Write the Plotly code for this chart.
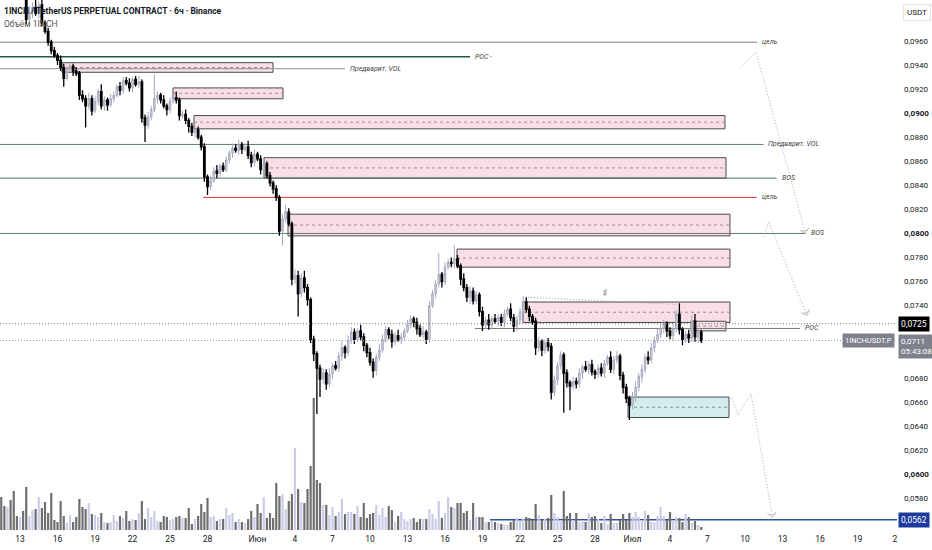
import pandas as pd
import plotly.graph_objects as go

# 6h candles of 1INCHUSDT.P, first candle 11 May 12:00
first_open = 0.1015
closes = [
    0.1010, 0.1005, 0.1012, 0.1008, 0.1003, 0.0999, 0.1004, 0.0998,
    0.0978, 0.0984, 0.0988, 0.0983, 0.0990, 0.0975, 0.0968, 0.0959,
    0.0952, 0.0948, 0.0944, 0.0938, 0.0929, 0.0937, 0.0939, 0.0935,
    0.0933, 0.0915, 0.0912, 0.0906, 0.0912, 0.0902, 0.0910, 0.0918,
    0.0906, 0.0911, 0.0907, 0.0912, 0.0915, 0.0922, 0.0919, 0.0927,
    0.0925, 0.0921, 0.0928, 0.0924, 0.0926, 0.0896, 0.0890, 0.0897,
    0.0903, 0.0912, 0.0915, 0.0911, 0.0906, 0.0903, 0.0910, 0.0913,
    0.0911, 0.0898, 0.0899, 0.0894, 0.0889, 0.0884, 0.0886, 0.0880,
    0.0872, 0.0847, 0.0839, 0.0844, 0.0852, 0.0850, 0.0856, 0.0853,
    0.0861, 0.0867, 0.0871, 0.0869, 0.0874, 0.0870, 0.0872, 0.0865,
    0.0859, 0.0866, 0.0862, 0.0853, 0.0858, 0.0848, 0.0842, 0.0837,
    0.0830, 0.0802, 0.0812, 0.0818, 0.0808, 0.0762, 0.0765, 0.0750,
    0.0763, 0.0755, 0.0745, 0.0712, 0.0700, 0.0688, 0.0679, 0.0684,
    0.0675, 0.0683, 0.0690, 0.0688, 0.0698, 0.0705, 0.0701, 0.0711,
    0.0718, 0.0712, 0.0719, 0.0714, 0.0707, 0.0701, 0.0693, 0.0686,
    0.0697, 0.0703, 0.0712, 0.0720, 0.0716, 0.0710, 0.0715, 0.0712,
    0.0714, 0.0719, 0.0724, 0.0729, 0.0726, 0.0721, 0.0716, 0.0718,
    0.0712, 0.0740, 0.0750, 0.0758, 0.0766, 0.0760, 0.0772, 0.0776,
    0.0775, 0.0779, 0.0773, 0.0762, 0.0755, 0.0747, 0.0752, 0.0744,
    0.0749, 0.0735, 0.0724, 0.0728, 0.0724, 0.0729, 0.0727, 0.0730,
    0.0726, 0.0733, 0.0737, 0.0730, 0.0723, 0.0728, 0.0735, 0.0743,
    0.0737, 0.0731, 0.0727, 0.0705, 0.0710, 0.0703, 0.0709, 0.0706,
    0.0668, 0.0678, 0.0690, 0.0699, 0.0684, 0.0676, 0.0673, 0.0677,
    0.0675, 0.0684, 0.0689, 0.0687, 0.0691, 0.0685, 0.0683, 0.0688,
    0.0684, 0.0692, 0.0697, 0.0687, 0.0695, 0.0698, 0.0682, 0.0672,
    0.0663, 0.0657, 0.0664, 0.0672, 0.0681, 0.0687, 0.0697, 0.0695,
    0.0705, 0.0711, 0.0716, 0.0721, 0.0725, 0.0719, 0.0715, 0.0721,
    0.0733, 0.0720, 0.0712, 0.0716, 0.0713, 0.0727, 0.0714, 0.0718,
    0.0711,
]
# wick lengths above / below the body, in 0.0001
wick_up = [
    4, 3, 5, 2, 3, 4, 2, 6, 8, 5, 4, 6, 3, 4, 2, 3,
    2, 3, 2, 4, 3, 2, 3, 2, 3, 2, 4, 3, 5, 3, 4, 2,
    6, 3, 2, 4, 3, 2, 4, 3, 3, 4, 2, 3, 5, 2, 3, 4,
    3, 20, 3, 2, 4, 2, 3, 3, 5, 2, 3, 4, 2, 3, 2, 3,
    2, 3, 2, 4, 3, 5, 2, 3, 3, 2, 4, 3, 4, 2, 3, 5,
    3, 4, 2, 3, 5, 2, 3, 2, 3, 2, 4, 6, 3, 2, 5, 4,
    4, 6, 3, 2, 3, 2, 3, 4, 3, 5, 2, 4, 3, 6, 2, 4,
    4, 3, 2, 5, 3, 2, 4, 3, 3, 5, 4, 3, 2, 4, 3, 5,
    3, 2, 4, 3, 2, 4, 3, 5, 2, 4, 3, 3, 18, 2, 4, 3,
    4, 11, 3, 2, 5, 3, 4, 3, 3, 2, 4, 3, 5, 2, 4, 3,
    3, 4, 2, 5, 3, 4, 3, 5, 4, 3, 2, 3, 4, 2, 3, 4,
    3, 4, 3, 3, 2, 3, 2, 4, 3, 4, 2, 5, 3, 4, 2, 3,
    4, 3, 2, 5, 3, 4, 2, 3, 3, 2, 4, 5, 3, 4, 3, 5,
    4, 3, 5, 4, 3, 2, 3, 4, 3, 9, 2, 3, 4, 5, 6, 3,
    2,
]
wick_down = [
    3, 4, 2, 5, 3, 2, 4, 3, 4, 3, 5, 2, 4, 3, 2, 3,
    3, 2, 4, 3, 7, 2, 3, 4, 2, 4, 3, 18, 3, 4, 2, 3,
    3, 4, 5, 2, 3, 2, 4, 3, 2, 3, 4, 2, 3, 4, 14, 3,
    3, 2, 4, 3, 2, 5, 3, 2, 3, 4, 2, 3, 5, 3, 4, 2,
    3, 4, 7, 3, 2, 4, 3, 2, 2, 3, 4, 2, 3, 4, 2, 3,
    4, 3, 2, 4, 3, 2, 3, 4, 3, 4, 12, 3, 2, 5, 4, 19,
    3, 4, 5, 3, 6, 38, 15, 4, 5, 3, 4, 2, 3, 4, 5, 3,
    3, 4, 2, 3, 5, 4, 3, 6, 4, 3, 2, 3, 4, 5, 3, 2,
    4, 3, 2, 3, 4, 5, 2, 3, 4, 3, 2, 4, 3, 5, 3, 2,
    3, 4, 2, 5, 3, 4, 6, 3, 3, 4, 5, 3, 4, 3, 2, 4,
    3, 4, 2, 3, 5, 4, 3, 2, 3, 4, 3, 6, 4, 5, 3, 4,
    6, 3, 4, 3, 33, 4, 20, 3, 4, 3, 5, 2, 4, 3, 4, 3,
    3, 4, 2, 3, 4, 3, 4, 5, 4, 12, 3, 4, 3, 5, 3, 4,
    3, 4, 2, 3, 4, 5, 3, 4, 3, 4, 5, 3, 4, 3, 4, 5,
    2,
]
volumes = [
    33, 24, 23, 30, 39, 14, 13, 19, 43, 14, 20, 21, 33, 22, 28, 17, 37, 10, 8, 29,
    14, 7, 15, 8, 13, 31, 23, 21, 27, 16, 15, 13, 17, 8, 7, 8, 15, 9, 14, 12,
    19, 9, 11, 10, 17, 29, 11, 22, 13, 19, 9, 8, 14, 13, 10, 11, 13, 14, 12, 12,
    22, 6, 11, 14, 26, 18, 32, 13, 14, 9, 11, 11, 22, 15, 17, 8, 11, 8, 7, 11,
    19, 13, 26, 17, 33, 12, 17, 12, 47, 34, 36, 21, 29, 36, 82, 41, 28, 27, 41, 64,
    132, 50, 47, 25, 25, 15, 23, 14, 18, 31, 16, 18, 18, 16, 24,
    13, 27, 12, 16, 17, 25, 15, 22, 13, 24, 20, 8, 14, 18, 11, 9, 11, 12, 8, 11,
    11, 11, 21, 16, 11, 29, 12, 17, 33, 23, 22, 27, 27, 17, 19, 10, 27, 13, 13, 13,
    8, 8,
    9, 8, 7, 6, 5, 5, 8, 10, 12, 9, 11, 13, 12, 10, 26,
    15, 10, 11, 12, 35, 17, 13, 10, 39,
    14, 17, 10, 17, 8, 10, 8, 17, 13, 14, 11, 7, 14, 6, 16, 7, 7, 10, 16, 10,
    17, 13, 18, 13, 10, 19, 15, 8, 8, 14, 23, 14, 10, 18, 10, 13, 12, 8, 16, 13,
    7, 9, 5, 3,
]

# price axis
price_ticks = [0.0960, 0.0940, 0.0920, 0.0900, 0.0880, 0.0860, 0.0840, 0.0820, 0.0800,
               0.0780, 0.0760, 0.0740, 0.0680, 0.0660, 0.0640, 0.0620, 0.0600, 0.0580]
bold_ticks = [0.0900, 0.0800, 0.0600]

# time axis
date_ticks = ["2025-05-13", "2025-05-16", "2025-05-19", "2025-05-22", "2025-05-25", "2025-05-28",
              "2025-06-01", "2025-06-04", "2025-06-07", "2025-06-10", "2025-06-13", "2025-06-16",
              "2025-06-19", "2025-06-22", "2025-06-25", "2025-06-28", "2025-07-01", "2025-07-04",
              "2025-07-07", "2025-07-10", "2025-07-13", "2025-07-16", "2025-07-19", "2025-07-22"]
date_labels = ["13", "16", "19", "22", "25", "28", "Июн", "4", "7", "10", "13", "16",
               "19", "22", "25", "28", "Июл", "4", "7", "10", "13", "16", "19", "2"]

view_start = "2025-05-11 09:36"
view_end = "2025-07-22 03:50"

# supply / demand zones
zone_start = ["2025-05-16 08:40", "2025-05-25 05:45", "2025-05-26 22:05", "2025-06-01 12:30",
              "2025-06-03 10:35", "2025-06-16 23:00", "2025-06-22 05:45", "2025-07-05 16:20",
              "2025-06-30 15:20"]
zone_end = ["2025-06-02 05:45", "2025-06-03 01:00", "2025-07-08 09:35", "2025-07-08 11:30",
            "2025-07-08 19:10", "2025-07-08 19:10", "2025-07-08 19:10", "2025-07-08 11:30",
            "2025-07-08 17:15"]
zone_top = [0.0942, 0.0921, 0.0898, 0.0863, 0.0816, 0.0787, 0.0743, 0.0727, 0.0664]
zone_bottom = [0.0934, 0.0912, 0.0887, 0.0846, 0.0798, 0.0772, 0.0726, 0.0719, 0.0647]
zone_demand = [False, False, False, False, False, False, False, False, True]

# horizontal levels
level_price = [0.0959, 0.0947, 0.0937, 0.0874, 0.0846, 0.0830, 0.0800, 0.0721, 0.0562]
level_start = [view_start, view_start, view_start, view_start, view_start,
               "2025-05-27 15:20", view_start, "2025-06-18 09:35", "2025-06-19 14:25"]
level_end = ["2025-07-10 23:00", "2025-06-18 00:00", "2025-06-08 00:00", "2025-07-11 11:30",
             "2025-07-12 12:30", "2025-07-10 23:00", "2025-07-14 20:10", "2025-07-14 09:35", view_end]
level_label = ["цель", "POC -", "Предварит. VOL", "Предварит. VOL", "BOS", "цель", "BOS", "POC", ""]
level_color = ["#6f8277", "#1f5a3e", "#8c9690", "#5f7a6b", "#4f6f5e", "#e0343a", "#5f7a6b",
               "#6f7f77", "#2f4ea6"]

# projected paths
path1_x = ["2025-07-09 14:25", "2025-07-10 21:05", "2025-07-14 20:10"]
path1_y = [0.0938, 0.0951, 0.0800]
path2_x = ["2025-07-11 11:30", "2025-07-11 21:05", "2025-07-14 23:00"]
path2_y = [0.0797, 0.0810, 0.0732]
path3_x = ["2025-07-08 23:00", "2025-07-09 10:35", "2025-07-10 11:30", "2025-07-12 04:50"]
path3_y = [0.0663, 0.0649, 0.0667, 0.0564]
liq_x = ["2025-06-22 09:35", "2025-07-04 13:25"]
liq_y = [0.0747, 0.0741]

last_price = 0.0711
mark_price = 0.0725


def main():
    times = pd.date_range("2025-05-11 12:00", periods=len(closes), freq="6h")
    opens = [first_open] + closes[:-1]
    highs = [max(o, c) + u / 10000 for o, c, u in zip(opens, closes, wick_up)]
    lows = [min(o, c) - d / 10000 for o, c, d in zip(opens, closes, wick_down)]
    vol_colors = ["#c9cce6" if c >= o else "#6e6e6e" for o, c in zip(opens, closes)]

    fig = go.Figure()
    fig.add_trace(go.Bar(x=times, y=volumes, marker_color=vol_colors, marker_line_width=0,
                         width=6 * 3600 * 1000 * 0.7, yaxis="y", hoverinfo="skip"))
    fig.add_trace(go.Candlestick(
        x=times, open=opens, high=highs, low=lows, close=closes, yaxis="y2",
        increasing=dict(line=dict(color="#a4a8bf", width=1), fillcolor="#d6d8de"),
        decreasing=dict(line=dict(color="#000000", width=1.3), fillcolor="#000000"),
    ))

    for px, py in [(path1_x, path1_y), (path2_x, path2_y), (path3_x, path3_y)]:
        sizes = [0] * (len(px) - 1) + [6]
        fig.add_trace(go.Scatter(
            x=px, y=py, yaxis="y2", mode="lines+markers",
            line=dict(color="#ababab", width=1, dash="1px,2px"),
            marker=dict(symbol="arrow-wide-open", size=sizes, angleref="previous",
                        color="#ababab", line=dict(width=1, color="#ababab")),
            hoverinfo="skip"))
    fig.add_trace(go.Scatter(x=liq_x, y=liq_y, yaxis="y2", mode="lines",
                             line=dict(color="#a89aa8", width=1, dash="1px,2px"), hoverinfo="skip"))

    shapes = []
    for x0, x1, top, bot, demand in zip(zone_start, zone_end, zone_top, zone_bottom, zone_demand):
        fill = "#d4ecec" if demand else "#f8dfe6"
        mid_col = "#6f9f9f" if demand else "#b58492"
        shapes.append(dict(type="rect", xref="x", yref="y2", x0=x0, x1=x1, y0=bot, y1=top,
                           fillcolor=fill, line=dict(color="#4a4a4a", width=1), layer="below"))
        shapes.append(dict(type="line", xref="x", yref="y2", x0=x0, x1=x1,
                           y0=(top + bot) / 2, y1=(top + bot) / 2,
                           line=dict(color=mid_col, width=1, dash="3px,3px"), layer="below"))
    for p, x0, x1, col in zip(level_price, level_start, level_end, level_color):
        w = 1.5 if col in ("#1f5a3e", "#2f4ea6") else 1
        shapes.append(dict(type="line", xref="x", yref="y2", x0=x0, x1=x1, y0=p, y1=p,
                           line=dict(color=col, width=w), layer="below"))
    shapes.append(dict(type="line", xref="x", yref="y2", x0=view_start, x1=view_end,
                       y0=mark_price, y1=mark_price,
                       line=dict(color="#777777", width=1, dash="1px,2px")))
    shapes.append(dict(type="line", xref="x", yref="y2", x0=view_start, x1=view_end,
                       y0=last_price, y1=last_price,
                       line=dict(color="#999999", width=1, dash="1px,2px")))

    annotations = []
    for p, x1, lab in zip(level_price, level_end, level_label):
        if lab:
            annotations.append(dict(x=x1, y=p, xref="x", yref="y2", text="<i>" + lab + "</i>",
                                    showarrow=False, xanchor="left", xshift=3,
                                    font=dict(size=7, color="#444444")))
    annotations.append(dict(x="2025-06-28 19:10", y=0.07505, xref="x", yref="y2", text="<i>$</i>",
                            showarrow=False, font=dict(size=7, color="#555555")))
    annotations += [
        dict(x=0, y=1, xref="paper", yref="paper", xanchor="left", yanchor="top", xshift=2, yshift=-4,
             text="<b>1INCH / TetherUS PERPETUAL CONTRACT · 6ч · Binance</b>", showarrow=False,
             font=dict(size=8.5, color="#131722")),
        dict(x=0, y=1, xref="paper", yref="paper", xanchor="left", yanchor="top", xshift=2, yshift=-17,
             text="Объём 1INCH", showarrow=False, font=dict(size=8.5, color="#555555")),
        dict(x=1, y=1, xref="paper", yref="paper", xanchor="left", yanchor="top", xshift=6, yshift=-4,
             text="USDT", showarrow=False, font=dict(size=8, color="#131722"),
             bordercolor="#e0e3eb", borderwidth=1, borderpad=3, bgcolor="white"),
        dict(x=1, y=mark_price, xref="paper", yref="y2", xanchor="left", xshift=1,
             text="0,0725", showarrow=False, font=dict(size=8.5, color="white"),
             bgcolor="#000000", borderpad=2),
        dict(x=1, y=last_price, xref="paper", yref="y2", xanchor="left", yanchor="top", xshift=1, yshift=7,
             text="0,0711<br>05:43:08", showarrow=False, align="left",
             font=dict(size=8, color="white"), bgcolor="#7e818c", borderpad=2),
        dict(x=1, y=last_price, xref="paper", yref="y2", xanchor="right", xshift=-2,
             text="1INCHUSDT.P", showarrow=False, font=dict(size=7.5, color="white"),
             bgcolor="#7e818c", borderpad=2),
        dict(x=1, y=0.0562, xref="paper", yref="y2", xanchor="left", xshift=1,
             text="0,0562", showarrow=False, font=dict(size=8.5, color="white"),
             bgcolor="#1e3a9e", borderpad=2),
    ]

    tick_text = []
    for t in price_ticks:
        s = ("%.4f" % t).replace(".", ",")
        tick_text.append("<b>" + s + "</b>" if t in bold_ticks else s)

    fig.update_layout(
        width=932, height=550,
        margin=dict(l=0, r=35, t=0, b=18),
        paper_bgcolor="white", plot_bgcolor="white",
        showlegend=False,
        font=dict(family="Roboto, Liberation Sans, sans-serif", color="#131722"),
        xaxis=dict(type="date", range=[view_start, view_end], tickvals=date_ticks,
                   ticktext=date_labels, showgrid=False, zeroline=False, showline=False,
                   ticks="", tickfont=dict(size=8.5, color="#131722"),
                   rangeslider=dict(visible=False)),
        yaxis=dict(range=[-2, 530], visible=False, fixedrange=True),
        yaxis2=dict(overlaying="y", side="right", range=[0.055179, 0.09941],
                    tickvals=price_ticks, ticktext=tick_text, showgrid=False, zeroline=False,
                    showline=False, ticks="", tickfont=dict(size=8, color="#131722"),
                    ticklabelstandoff=6),
        shapes=shapes,
        annotations=annotations,
    )
    fig.write_html("out.html", config={"displayModeBar": False},
                   post_script="document.body.style.margin='0';")


if __name__ == "__main__":
    main()
